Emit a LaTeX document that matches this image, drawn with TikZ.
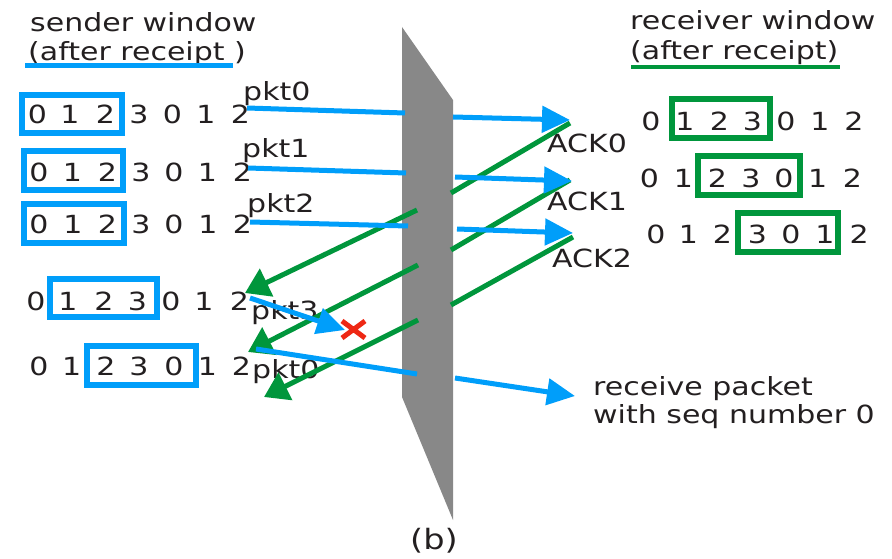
\documentclass[tikz,border=0pt]{standalone}
\usepackage{fontspec}
\setmainfont[FakeStretch=1.2]{DejaVu Sans}
\usetikzlibrary{arrows.meta}
\definecolor{pblue}{RGB}{0,158,250}
\definecolor{pgreen}{RGB}{0,150,60}
\definecolor{pred}{RGB}{238,40,20}
\definecolor{pgray}{RGB}{136,136,136}
\definecolor{ptext}{RGB}{35,31,32}
\begin{document}
\begin{tikzpicture}[x=1pt,y=-1pt,
  txt/.style={inner sep=0pt,text=ptext,font=\fontsize{25}{29}\selectfont},
  dig/.style={txt,anchor=base},
  lbl/.style={txt,anchor=base west},
  sbox/.style={draw=pblue,line width=6pt},
  rbox/.style={draw=pgreen,line width=6pt},
  pkt/.style={draw=pblue,line width=5pt},
  pkta/.style={pkt,-{Triangle[length=28pt,width=26pt]}},
  ack/.style={draw=pgreen,line width=5pt},
  acka/.style={ack,-{Triangle[length=24pt,width=30pt]}},
  uline/.style={line width=4.5pt}
]
\useasboundingbox (0,0) rectangle (892,559);
% wall
\fill[pgray] (402,27) -- (453,100) -- (453,520) -- (402,397) -- cycle;

% headers
\node[lbl] (sw) at (30,32) {sender window};
\node[lbl] (sa) at (28,61) {(after receipt )};
\draw[uline,draw=pblue] (25,65.5) -- (233,65.5);
\node[lbl] (rw) at (630,30) {receiver window};
\node[lbl] (ra) at (630,60) {(after receipt)};
\draw[uline,draw=pgreen] (631,67) -- (840,67);

% sender rows
\foreach \d/\x [count=\i] in {0/37.5,1/70,2/105.5,3/139,0/172.5,1/206,2/240.5}
  \node[dig] (sa\i) at (\x,124) {\d};
\foreach \d/\x [count=\i] in {0/39,1/72.5,2/107.5,3/140.8,0/174,1/207.5,2/242.5}
  \node[dig] (sb\i) at (\x,182) {\d};
\foreach \d/\x [count=\i] in {0/39,1/73,2/107.5,3/141,0/174,1/208,2/242.5}
  \node[dig] (sc\i) at (\x,233.5) {\d};
\foreach \d/\x [count=\i] in {0/36,1/68,2/104,3/137.5,0/171,1/204,2/239.5}
  \node[dig] (sd\i) at (\x,310) {\d};
\foreach \d/\x [count=\i] in {0/39,1/71.7,2/105.8,3/139,0/174,1/207.5,2/241.5}
  \node[dig] (se\i) at (\x,375) {\d};
\draw[sbox] (21.7,95) rectangle (122,133.5);
\draw[sbox] (23.8,151.5) rectangle (122.5,189.7);
\draw[sbox] (23.7,203.7) rectangle (124.3,243);
\draw[sbox] (50,279) rectangle (157,317.3);
\draw[sbox] (86.7,345.8) rectangle (196,384.7);

% receiver rows
\foreach \d/\x [count=\i] in {0/651,1/685,2/719.5,3/752.5,0/786,1/820,2/854}
  \node[dig] (ra\i) at (\x,131) {\d};
\foreach \d/\x [count=\i] in {0/649.5,1/683.3,2/717.5,3/751,0/784,1/817.7,2/852.5}
  \node[dig] (rb\i) at (\x,187) {\d};
\foreach \d/\x [count=\i] in {0/655.8,1/688.3,2/722.5,3/757.5,0/791,1/825,2/859.2}
  \node[dig] (rc\i) at (\x,243.5) {\d};
\draw[rbox] (671.7,98.8) rectangle (769.7,137.8);
\draw[rbox] (698,156.3) rectangle (799.7,195.3);
\draw[rbox] (738.3,212.7) rectangle (837.8,251.7);

% packet labels
\node[lbl] (p0) at (243,101) {pkt0};
\node[lbl] (p1) at (242,158) {pkt1};
\node[lbl] (p2) at (247,212) {pkt2};
\node[lbl] (p3) at (251,319) {pkt3};
\node[lbl] (p4) at (252,378) {pkt0};
\node[lbl] (a0) at (547,153) {ACK0};
\node[lbl] (a1) at (547,211) {ACK1};
\node[lbl] (a2) at (552,267) {ACK2};
\node[lbl] (rp1) at (593,395) {receive packet};
\node[lbl] (rp2) at (593,423) {with seq number 0};
\node[dig,font=\fontsize{28}{32}\selectfont] (cap) at (434,549) {(b)};

% coordinates of the arrows
\coordinate (b0s) at (247,108); \coordinate (b0m) at (405,113);
\coordinate (b0n) at (453,117); \coordinate (b0e) at (570,120);
\coordinate (b1s) at (248,168); \coordinate (b1m) at (406,173);
\coordinate (b1n) at (455,177); \coordinate (b1e) at (572,181);
\coordinate (b2s) at (250,222); \coordinate (b2m) at (408,226);
\coordinate (b2n) at (457,229); \coordinate (b2e) at (573,233);
\coordinate (b3s) at (250,298); \coordinate (b3e) at (345,330);
\coordinate (b4s) at (256,349); \coordinate (b4m) at (417,374);
\coordinate (b4n) at (455,378); \coordinate (b4e) at (575,396);

\coordinate (g0s) at (570,123); \coordinate (g0m) at (451,193);
\coordinate (g0n) at (417,210); \coordinate (g0e) at (245,293);
\coordinate (g1s) at (570,180); \coordinate (g1m) at (451,250);
\coordinate (g1n) at (418,265); \coordinate (g1e) at (248,352);
\coordinate (g2s) at (573,237); \coordinate (g2m) at (451,305);
\coordinate (g2n) at (418,320); \coordinate (g2e) at (264,397);

% green ACK arrows
\draw[ack] (g0s) -- (g0m);
\draw[acka] (g0n) -- (g0e);
\draw[ack] (g1s) -- (g1m);
\draw[acka] (g1n) -- (g1e);
\draw[ack] (g2s) -- (g2m);
\draw[acka] (g2n) -- (g2e);

% blue packet arrows
\draw[pkt] (b0s) -- (b0m);
\draw[pkta] (b0n) -- (b0e);
\draw[pkt] (b1s) -- (b1m);
\draw[pkta] (b1n) -- (b1e);
\draw[pkt] (b2s) -- (b2m);
\draw[pkta] (b2n) -- (b2e);
\draw[pkta] (b3s) -- (b3e);
\draw[pkt] (b4s) -- (b4m);
\draw[pkta] (b4n) -- (b4e);

% loss mark
\coordinate (x1) at (342,321); \coordinate (x2) at (365,338);
\coordinate (x3) at (342,338); \coordinate (x4) at (365,321);
\draw[pred,line width=5pt] (x1) -- (x2) (x3) -- (x4);
\end{tikzpicture}
\end{document}
